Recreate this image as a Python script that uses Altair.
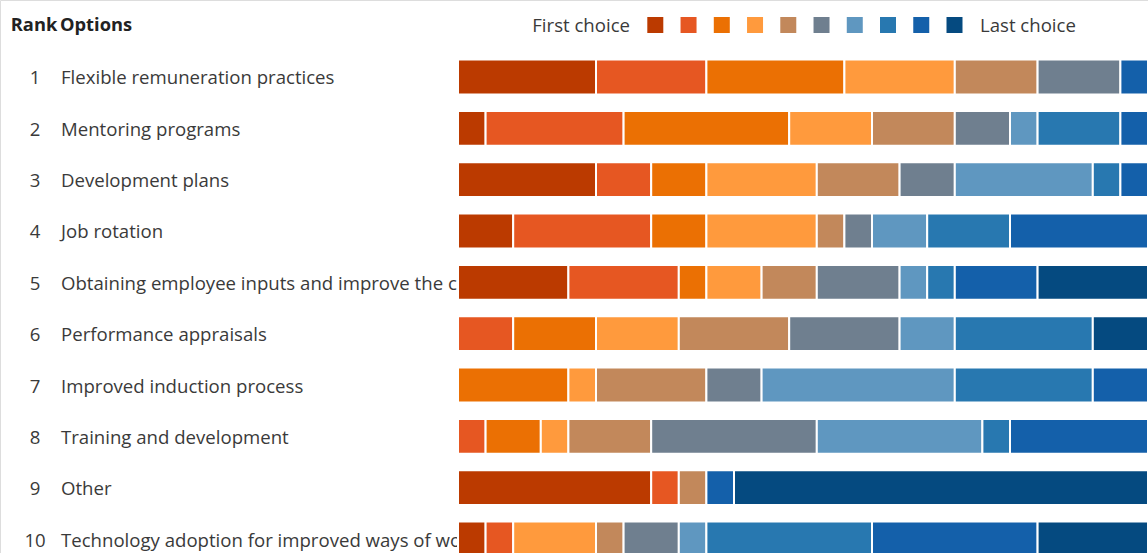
import altair as alt
import pandas as pd

ranks = [1, 2, 3, 4, 5, 6, 7, 8, 9, 10]
options = [
    "Flexible remuneration practices",
    "Mentoring programs",
    "Development plans",
    "Job rotation",
    "Obtaining employee inputs and improve the culture",
    "Performance appraisals",
    "Improved induction process",
    "Training and development",
    "Other",
    "Technology adoption for improved ways of working",
]
choices = ["Choice 1", "Choice 2", "Choice 3", "Choice 4", "Choice 5",
           "Choice 6", "Choice 7", "Choice 8", "Choice 9", "Choice 10"]
colors = ["#bb3a00", "#e65722", "#eb7003", "#ff9a3d", "#c2885b",
          "#6f7f8f", "#5f97c0", "#2878b0", "#1460aa", "#054a80"]

# number of respondents giving each choice position, per option (25 respondents)
counts_1 = [5, 4, 5, 4, 3, 3, 0, 0, 1, 0]
counts_2 = [1, 5, 6, 3, 3, 2, 1, 3, 1, 0]
counts_3 = [5, 2, 2, 4, 3, 2, 5, 1, 1, 0]
counts_4 = [2, 5, 2, 4, 1, 1, 2, 3, 5, 0]
counts_5 = [4, 4, 1, 2, 2, 3, 1, 1, 3, 4]
counts_6 = [0, 2, 3, 3, 4, 4, 2, 5, 0, 2]
counts_7 = [0, 0, 4, 1, 4, 2, 7, 5, 2, 0]
counts_8 = [0, 1, 2, 1, 3, 6, 6, 1, 5, 0]
counts_9 = [7, 1, 0, 0, 1, 0, 0, 0, 1, 15]
counts_10 = [1, 1, 0, 3, 1, 2, 1, 6, 6, 4]
all_counts = [counts_1, counts_2, counts_3, counts_4, counts_5,
              counts_6, counts_7, counts_8, counts_9, counts_10]

header_labels = ["Rank", "Options"]
legend_labels = ["First choice", "Last choice"]

rows = []
for r, cs in zip(ranks, all_counts):
    for i, c in enumerate(cs):
        if c > 0:
            rows.append({"rank": str(r), "choice": choices[i], "order": i, "count": c})
bars_df = pd.DataFrame(rows)
labels_df = pd.DataFrame({"rank": [str(r) for r in ranks], "option": options})
legend_df = pd.DataFrame({"choice": choices})

FONT = "Open Sans"
TXT = "#3a3a3a"
FS = 18.6

yscale = alt.Scale(domain=[str(r) for r in ranks], range=[51.33, 564.67],
                   paddingInner=0.32, paddingOuter=0.16)
color = alt.Color("choice:N", scale=alt.Scale(domain=choices, range=colors), legend=None)

rank_text = alt.Chart(labels_df).mark_text(
    align="center", baseline="middle", font=FONT, fontSize=FS, color=TXT, dy=1.5
).encode(x=alt.value(35), y=alt.Y("rank:N", scale=yscale, axis=None), text="rank:N")

option_text = alt.Chart(labels_df).mark_text(
    align="left", baseline="middle", font=FONT, fontSize=FS, color=TXT, dy=1.5
).encode(x=alt.value(61), y=alt.Y("rank:N", scale=yscale, axis=None), text="option:N")

bars = alt.Chart(bars_df).mark_bar(stroke="white", strokeWidth=2).encode(
    x=alt.X("sum(count):Q", stack="zero",
            scale=alt.Scale(domain=[0, 25], range=[458, 1148], nice=False, zero=True),
            axis=None),
    y=alt.Y("rank:N", scale=yscale, axis=None),
    color=color,
    order=alt.Order("order:Q"),
)

head_rank = alt.Chart(pd.DataFrame({"t": [header_labels[0]]})).mark_text(
    align="center", baseline="middle", font=FONT, fontSize=18.3, fontWeight="bold", color="#222222"
).encode(x=alt.value(34), y=alt.value(26), text="t:N")
head_opt = alt.Chart(pd.DataFrame({"t": [header_labels[1]]})).mark_text(
    align="left", baseline="middle", font=FONT, fontSize=18.3, fontWeight="bold", color="#222222"
).encode(x=alt.value(60), y=alt.value(26), text="t:N")

leg_first = alt.Chart(pd.DataFrame({"t": [legend_labels[0]]})).mark_text(
    align="right", baseline="middle", font=FONT, fontSize=FS, color=TXT
).encode(x=alt.value(630), y=alt.value(26), text="t:N")
leg_last = alt.Chart(pd.DataFrame({"t": [legend_labels[1]]})).mark_text(
    align="left", baseline="middle", font=FONT, fontSize=FS, color=TXT
).encode(x=alt.value(980), y=alt.value(26), text="t:N")

leg_sq = alt.Chart(legend_df).mark_square(size=256, opacity=1).encode(
    x=alt.X("choice:N", scale=alt.Scale(type="point", domain=choices, range=[655.3, 954.5], padding=0),
            axis=None),
    y=alt.value(25),
    color=color,
)

chart = alt.layer(
    rank_text, option_text, bars, head_rank, head_opt, leg_first, leg_last, leg_sq
).resolve_scale(x="independent").properties(
    width=1148, height=553, padding=0, autosize=alt.AutoSizeParams(type="none")
).configure_view(stroke=None).configure(background="white")

chart.save("out.html", embed_options={"renderer": "svg", "actions": False})
